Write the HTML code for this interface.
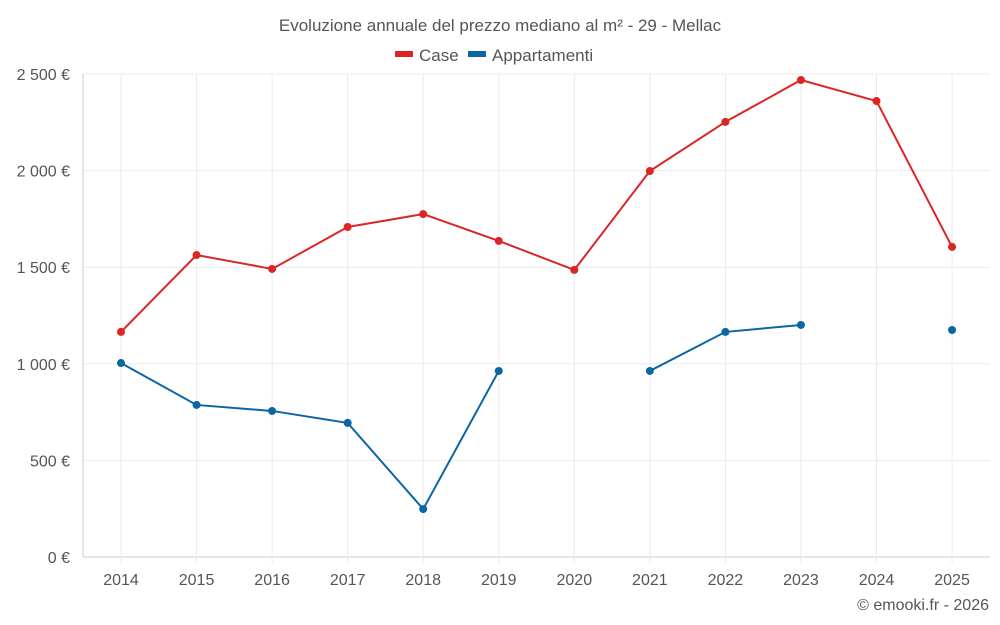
<!DOCTYPE html>
<html><head><meta charset="utf-8"><style>
body{margin:0;background:#fff;font-family:"Liberation Sans",sans-serif;}
svg{display:block}
</style></head><body>
<svg id="chart" width="1000" height="625">
<text x="500" y="31" text-anchor="middle" font-size="17" fill="#555">Evoluzione annuale del prezzo mediano al m² - 29 - Mellac</text>
<g>
<g><rect x="395" y="51" width="18" height="6" fill="#dc2626"/><text x="419" y="61" font-size="17" fill="#555">Case</text></g>
<g><rect x="468" y="51" width="18" height="6" fill="#0a67a3"/><text x="492" y="61" font-size="17" fill="#555">Appartamenti</text></g>
</g>
<g id="grid"></g><g id="axes"></g><g id="series"></g>
<text x="989" y="610" text-anchor="end" font-size="16" fill="#555">© emooki.fr - 2026</text>
</svg>
<script>
const years=[2014,2015,2016,2017,2018,2019,2020,2021,2022,2023,2024,2025];
const caseVals=[1165,1563,1491,1708,1775,1636,1486,1998,2252,2469,2360,1605];
const aptVals=[1004,787,756,694,248,963,null,963,1165,1201,null,1175];
const yTicks=[0,500,1000,1500,2000,2500];
const yTickLabels=["0 €","500 €","1 000 €","1 500 €","2 000 €","2 500 €"];
const NS="http://www.w3.org/2000/svg";
const x=i=>121+i*75.55, y=v=>557-v*0.1932;
function mk(t,a,p){const e=document.createElementNS(NS,t);for(const k in a)e.setAttribute(k,a[k]);p.appendChild(e);return e;}
const grid=document.getElementById('grid'),axes=document.getElementById('axes'),ser=document.getElementById('series');
yTicks.forEach((v,i)=>{
 const l=mk('line',{x1:83,x2:990,y1:y(v),y2:y(v),stroke:i==0?'#ccc':'#ebebeb'},grid);
 
 
 const t=mk('text',{x:70,y:y(v)+6,'text-anchor':'end','font-size':16,fill:'#555'},axes);
 t.textContent=yTickLabels[i];
 
 
});
years.forEach((yr,i)=>{
 const l=mk('line',{x1:x(i),x2:x(i),y1:74,y2:563,stroke:'#ebebeb'},grid);
 
 
 const t=mk('text',{x:x(i),y:585,'text-anchor':'middle','font-size':16,fill:'#555'},axes);
 t.textContent=yr;
 
 
});
const al=mk('line',{x1:83,x2:83,y1:74,y2:557,stroke:'#ccc'},axes);


function draw(vals,color,name){
 let seg=[];const segs=[];
 vals.forEach((v,i)=>{if(v==null){if(seg.length)segs.push(seg);seg=[];}else seg.push([x(i),y(v)]);});
 if(seg.length)segs.push(seg);
 segs.forEach(s=>{if(s.length>1){const p=mk('polyline',{points:s.map(q=>q.join(',')).join(' '),fill:'none',stroke:color,'stroke-width':2},ser);
  
  }});
 vals.forEach((v,i)=>{if(v==null)return;const c=mk('circle',{cx:x(i),cy:y(v),r:4,fill:color},ser);
  
  });
}
draw(caseVals,'#dc2626','case');
draw(aptVals,'#0a67a3','appartamenti');
</script>
</body></html>
